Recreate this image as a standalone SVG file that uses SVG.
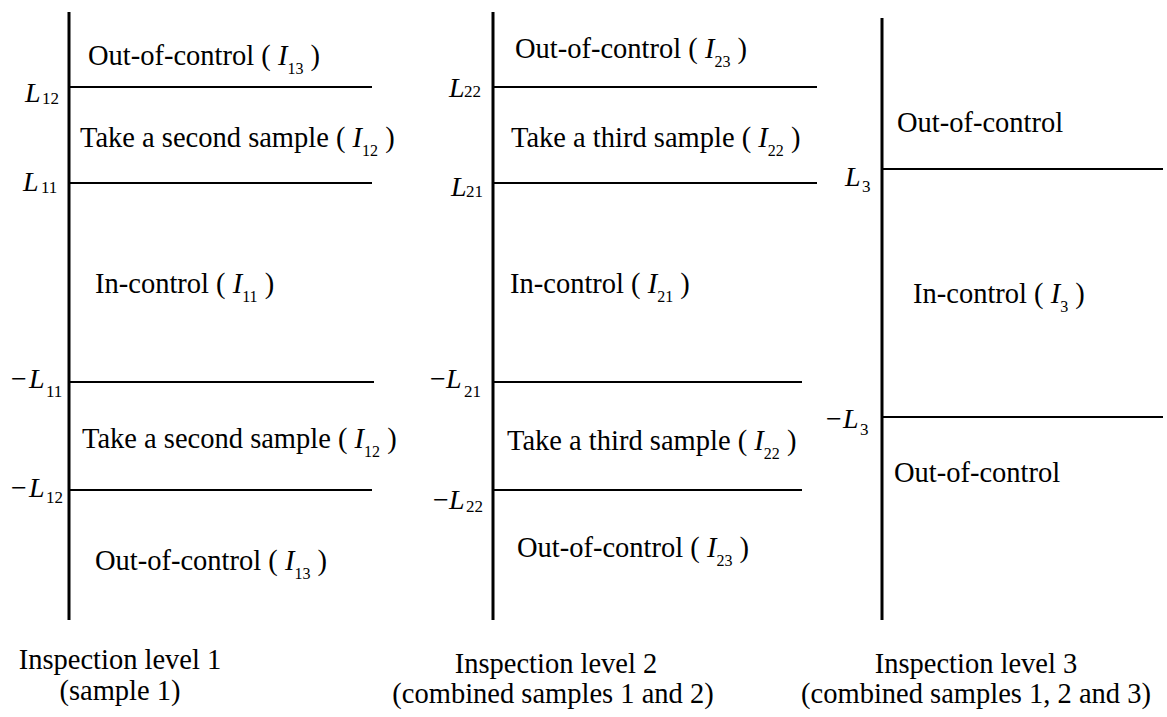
<svg xmlns="http://www.w3.org/2000/svg" width="1167" height="717" viewBox="0 0 1167 717">
<style>
text{font-family:"Liberation Serif","Times New Roman",serif;fill:#000}
.t{font-size:28.5px}
.i{font-style:italic}
.s{font-size:16px;font-style:normal}
.L{font-size:28px}
.Ls{font-size:17px}
.ax{stroke:#000;stroke-width:3;fill:none}
.hl{stroke:#000;stroke-width:2;fill:none}
</style>
<rect width="1167" height="717" fill="#fff"/>
<g id="connectors">
<line class="ax" x1="69" y1="12" x2="69" y2="620"/>
<line class="hl" x1="69" y1="87" x2="372" y2="87"/>
<line class="hl" x1="69" y1="183" x2="372" y2="183"/>
<line class="hl" x1="69" y1="382" x2="374" y2="382"/>
<line class="hl" x1="69" y1="490" x2="372" y2="490"/>
<line class="ax" x1="493" y1="12" x2="493" y2="620"/>
<line class="hl" x1="493" y1="87" x2="817" y2="87"/>
<line class="hl" x1="493" y1="183" x2="817" y2="183"/>
<line class="hl" x1="493" y1="382" x2="802" y2="382"/>
<line class="hl" x1="493" y1="490" x2="802" y2="490"/>
<line class="ax" x1="882" y1="18" x2="882" y2="620"/>
<line class="hl" x1="882" y1="169" x2="1163" y2="169"/>
<line class="hl" x1="882" y1="417" x2="1163" y2="417"/>
</g>
<g id="level1">
<text class="L"><tspan class="i" x="25" y="102">L</tspan><tspan class="Ls" x="42" y="104">12</tspan></text>
<text class="L"><tspan class="i" x="23" y="191">L</tspan><tspan class="Ls" x="41" y="193">11</tspan></text>
<text class="L"><tspan x="11" y="388">−</tspan><tspan class="i" x="29" y="388">L</tspan><tspan class="Ls" x="46" y="397">11</tspan></text>
<text class="L"><tspan x="11" y="497">−</tspan><tspan class="i" x="29" y="497">L</tspan><tspan class="Ls" x="46" y="503">12</tspan></text>
<text class="t" x="88" y="65">Out-of-control ( <tspan class="i">I</tspan><tspan class="s" dy="9">13</tspan><tspan dy="-9"> )</tspan></text>
<text class="t" x="80" y="147">Take a second sample ( <tspan class="i">I</tspan><tspan class="s" dy="9">12</tspan><tspan dy="-9"> )</tspan></text>
<text class="t" x="95" y="293">In-control ( <tspan class="i">I</tspan><tspan class="s" dy="9">11</tspan><tspan dy="-9"> )</tspan></text>
<text class="t" x="82" y="448">Take a second sample ( <tspan class="i">I</tspan><tspan class="s" dy="9">12</tspan><tspan dy="-9"> )</tspan></text>
<text class="t" x="95" y="570">Out-of-control ( <tspan class="i">I</tspan><tspan class="s" dy="9">13</tspan><tspan dy="-9"> )</tspan></text>
<text class="t" text-anchor="middle" x="120" y="669">Inspection level 1</text>
<text class="t" text-anchor="middle" x="120" y="700">(sample 1)</text>
</g>
<g id="level2">
<text class="L"><tspan class="i" x="449" y="97">L</tspan><tspan class="Ls" x="464" y="97">22</tspan></text>
<text class="L"><tspan class="i" x="451" y="196">L</tspan><tspan class="Ls" x="466" y="197">21</tspan></text>
<text class="L"><tspan x="430" y="388">−</tspan><tspan class="i" x="446" y="388">L</tspan><tspan class="Ls" x="464" y="397">21</tspan></text>
<text class="L"><tspan x="433" y="509">−</tspan><tspan class="i" x="449" y="509">L</tspan><tspan class="Ls" x="466" y="512">22</tspan></text>
<text class="t" x="515" y="58">Out-of-control ( <tspan class="i">I</tspan><tspan class="s" dy="9">23</tspan><tspan dy="-9"> )</tspan></text>
<text class="t" x="511" y="147">Take a third sample ( <tspan class="i">I</tspan><tspan class="s" dy="9">22</tspan><tspan dy="-9"> )</tspan></text>
<text class="t" x="510" y="293">In-control ( <tspan class="i">I</tspan><tspan class="s" dy="9">21</tspan><tspan dy="-9"> )</tspan></text>
<text class="t" x="507" y="450">Take a third sample ( <tspan class="i">I</tspan><tspan class="s" dy="9">22</tspan><tspan dy="-9"> )</tspan></text>
<text class="t" x="517" y="557">Out-of-control ( <tspan class="i">I</tspan><tspan class="s" dy="9">23</tspan><tspan dy="-9"> )</tspan></text>
<text class="t" text-anchor="middle" x="556" y="673">Inspection level 2</text>
<text class="t" text-anchor="middle" x="553" y="703">(combined samples 1 and 2)</text>
</g>
<g id="level3">
<text class="L"><tspan class="i" x="845" y="186">L</tspan><tspan class="Ls" x="862" y="192">3</tspan></text>
<text class="L"><tspan x="826" y="428">−</tspan><tspan class="i" x="843" y="428">L</tspan><tspan class="Ls" x="860" y="435">3</tspan></text>
<text class="t" x="897" y="132">Out-of-control</text>
<text class="t" x="913" y="303">In-control ( <tspan class="i">I</tspan><tspan class="s" dy="9">3</tspan><tspan dy="-9"> )</tspan></text>
<text class="t" x="894" y="482">Out-of-control</text>
<text class="t" text-anchor="middle" x="976" y="673">Inspection level 3</text>
<text class="t" text-anchor="middle" x="976" y="703">(combined samples 1, 2 and 3)</text>
</g>
</svg>
